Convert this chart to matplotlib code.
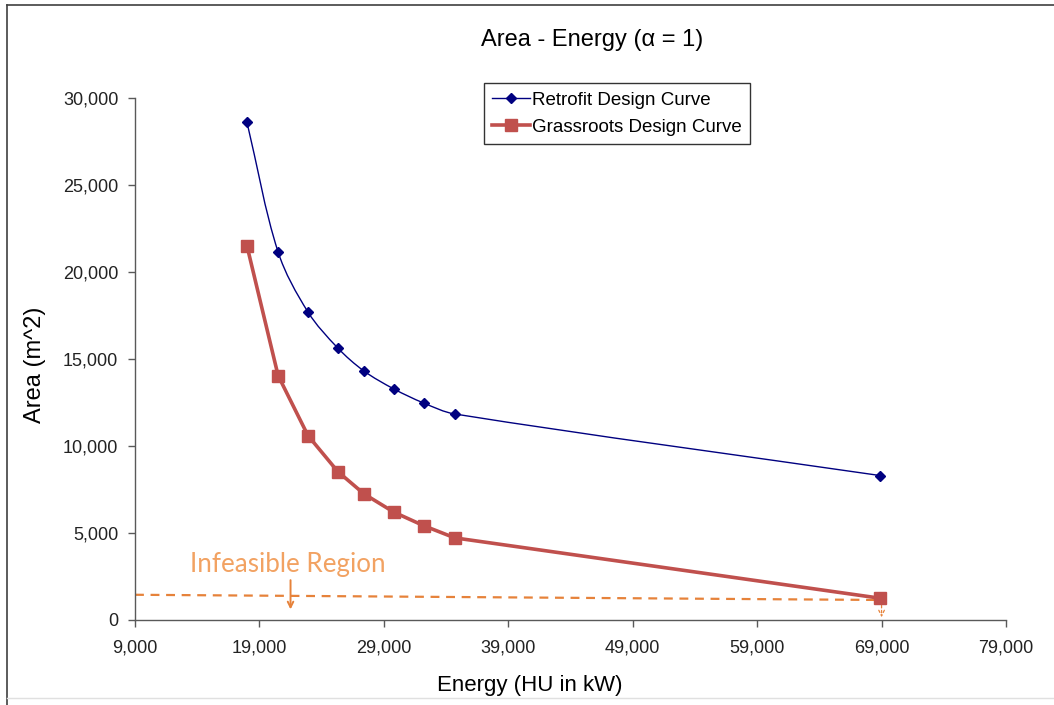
import numpy as np
import matplotlib
matplotlib.use("Agg")
import matplotlib.pyplot as plt
from matplotlib.path import Path
from matplotlib.patches import PathPatch
from matplotlib.ticker import FuncFormatter
from matplotlib.lines import Line2D

# Data
energy = [18000, 20500, 22900, 25300, 27400, 29800, 32200, 34700, 68900]
retrofit_area = [28600, 21150, 17700, 15630, 14310, 13280, 12470, 11840, 8300]
grassroots_area = [21500, 14050, 10600, 8530, 7250, 6200, 5420, 4720, 1250]

infeasible_x = [9000, 69000]
infeasible_y = [1450, 1150]
infeasible_arrow_x = 21500

x_ticks = [9000, 19000, 29000, 39000, 49000, 59000, 69000, 79000]
y_ticks = [0, 5000, 10000, 15000, 20000, 25000, 30000]
x_range = (9000, 79000)
y_range = (0, 30000)

NAVY = "#000080"
RED = "#C0504D"
ORANGE = "#E6823A"
ORANGE_TXT = "#F2A262"
AXIS = "#595959"

plt.rcParams["font.family"] = ["Liberation Sans", "DejaVu Sans"]

W, H = 1054, 705
fig = plt.figure(figsize=(W / 100, H / 100), dpi=100)
ax_box = [135 / W, 1 - 620 / H, (1006 - 135) / W, (620 - 98) / H]
ax = fig.add_axes(ax_box)


def smooth_path(xs, ys, sx, sy, tension=1 / 6):
    """Cubic Bezier path through the points, with tangents limited so that
    long and short neighbouring segments do not overshoot.  sx, sy give the
    plotting scale so the smoothing is done in screen-like proportions."""
    pts = np.column_stack([np.asarray(xs, float) / sx, np.asarray(ys, float) / sy])
    n = len(pts)
    verts = [pts[0]]
    codes = [Path.MOVETO]

    def tangent(i):
        a = pts[max(i - 1, 0)]
        b = pts[min(i + 1, n - 1)]
        d = b - a
        return d / (np.linalg.norm(d) + 1e-12)

    for i in range(n - 1):
        p1, p2 = pts[i], pts[i + 1]
        seg = np.linalg.norm(p2 - p1)
        c1 = p1 + tangent(i) * seg * tension * 2
        c2 = p2 - tangent(i + 1) * seg * tension * 2
        verts += [c1, c2, p2]
        codes += [Path.CURVE4] * 3
    verts = np.array(verts) * [sx, sy]
    return Path(verts, codes)


sx = (x_range[1] - x_range[0]) / (1006 - 135)
sy = (y_range[1] - y_range[0]) / (620 - 98)

# Retrofit: smoothed thin line with diamond markers
ax.add_patch(PathPatch(smooth_path(energy, retrofit_area, sx, sy), fill=False,
                       edgecolor=NAVY, lw=1.0, zorder=3))
ax.plot(energy, retrofit_area, ls="none", marker="D", ms=5, color=NAVY, zorder=4)

# Grassroots: thick line with square markers
ax.plot(energy, grassroots_area, color=RED, lw=2.6, marker="s", ms=9,
        markeredgecolor=RED, zorder=3)

# Infeasible region boundary
ax.plot(infeasible_x, infeasible_y, color=ORANGE, lw=1.6, ls=(0, (4, 3)), zorder=2)
ax.annotate("", xy=(infeasible_arrow_x, 450), xytext=(infeasible_arrow_x, 2450),
            arrowprops=dict(arrowstyle="->", color=ORANGE, lw=1.4), zorder=2)
ax.annotate("", xy=(infeasible_x[1], 0), xytext=(infeasible_x[1], 1000),
            arrowprops=dict(arrowstyle="->", color=ORANGE, lw=0.9, ls=(0, (2, 2))),
            zorder=2)
ax.text(21300, 3200, "Infeasible Region", color=ORANGE_TXT, fontsize=18.7,
        family=["Lato", "DejaVu Sans"], ha="center", va="center")

# Axes
ax.set_xlim(*x_range)
ax.set_ylim(*y_range)
ax.set_xticks(x_ticks)
ax.set_yticks(y_ticks)
fmt = FuncFormatter(lambda v, p: f"{int(v):,}")
ax.xaxis.set_major_formatter(fmt)
ax.yaxis.set_major_formatter(fmt)
for s in ["top", "right"]:
    ax.spines[s].set_visible(False)
for s in ["left", "bottom"]:
    ax.spines[s].set_color(AXIS)
    ax.spines[s].set_linewidth(1.0)
ax.tick_params(axis="both", direction="out", length=5, width=1.0, color=AXIS,
               labelsize=13, labelcolor="#222222")
ax.tick_params(axis="x", pad=9)
ax.tick_params(axis="y", pad=7)

fig.text(35 / W, 1 - 365 / H, "Area (m^2)", rotation=90, fontsize=17,
         ha="center", va="center")
fig.text(530 / W, 1 - 686 / H, "Energy (HU in kW)", fontsize=16,
         ha="center", va="center")
fig.text(592 / W, 1 - 40 / H, "Area - Energy (α = 1)", fontsize=17,
         ha="center", va="center")

# Legend
handles = [
    Line2D([], [], color=NAVY, lw=1.0, marker="D", ms=5),
    Line2D([], [], color=RED, lw=2.6, marker="s", ms=9),
]
leg = fig.legend(handles, ["Retrofit Design Curve", "Grassroots Design Curve"],
                 loc="upper left", bbox_to_anchor=(484 / W, 1 - 83 / H),
                 fontsize=13.5, frameon=True, fancybox=False, handlelength=2.0,
                 handletextpad=0.1, borderpad=0.45, labelspacing=0.55,
                 borderaxespad=0)
leg.get_frame().set_edgecolor("black")
leg.get_frame().set_linewidth(1.0)

# Chart-area frame
fig.add_artist(Line2D([7 / W, 1], [1 - 5 / H] * 2, transform=fig.transFigure,
                      color="#404040", lw=1.2))
fig.add_artist(Line2D([7 / W] * 2, [0, 1 - 5 / H], transform=fig.transFigure,
                      color="#404040", lw=1.2))
fig.add_artist(Line2D([7 / W, 1], [1 - 698 / H] * 2, transform=fig.transFigure,
                      color="#E0E0E0", lw=1.0))

fig.savefig("out.png", dpi=100)
